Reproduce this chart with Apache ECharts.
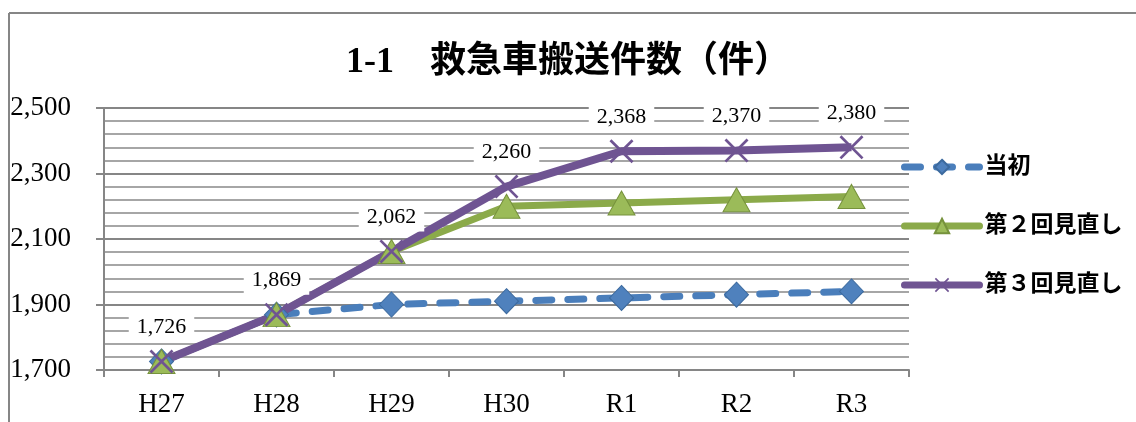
<!DOCTYPE html>
<html><head><meta charset="utf-8">
<script src="https://cdn.jsdelivr.net/npm/echarts@6/dist/echarts.min.js"></script>
<style>html,body{margin:0;padding:0;background:#fff}#c{width:1136px;height:422px}</style>
</head><body><div id="c"></div>
<script>
const categories = ['H27','H28','H29','H30','R1','R2','R3'];
const initial = [1726, 1869, 1900, 1910, 1920, 1930, 1940];
const review2 = [1726, 1869, 2062, 2200, 2210, 2220, 2230];
const review3 = [1726, 1869, 2062, 2260, 2368, 2370, 2380];
const seriesNames = ['当初', '第２回見直し', '第３回見直し'];
const titleText = '1-1　救急車搬送件数（件）';

const serif = '"Liberation Serif","Noto Sans CJK JP",serif';
const xPath = 'path://M0,0.8 L0.8,0 L10,9.2 L9.2,10 Z M9.2,0 L10,0.8 L0.8,10 L0,9.2 Z';

const chart = echarts.init(document.getElementById('c'), null, {renderer:'canvas'});
chart.setOption({
  animation: false,
  backgroundColor: '#fff',
  title: {
    text: titleText, left: 'center', top: 40,
    textStyle: {fontFamily: serif, fontWeight: 'bold', fontSize: 36, color: '#000'}
  },
  graphic: [
    {type:'line', shape:{x1:9, y1:13, x2:1136, y2:13}, style:{stroke:'#868686', lineWidth:2}},
    {type:'line', shape:{x1:9, y1:13, x2:9, y2:422}, style:{stroke:'#868686', lineWidth:2}}
  ],
  legend: {
    orient: 'vertical', left: 896, top: 150,
    itemWidth: 75, itemHeight: 18, itemGap: 35,
    textStyle: {fontFamily: serif, fontWeight: 'bold', fontSize: 23, color: '#000', lineHeight: 24},
    data: [
      {name: seriesNames[0], lineStyle: {width: 7, type: [16, 16], cap: 'round'}},
      {name: seriesNames[1], lineStyle: {width: 7, cap: 'round'}},
      {name: seriesNames[2], lineStyle: {width: 7, cap: 'round'}}
    ]
  },
  grid: {left: 104, right: 227, top: 108, bottom: 52},
  xAxis: {
    type: 'category', data: categories, boundaryGap: true,
    axisLine: {lineStyle: {color: '#868686', width: 2}},
    axisTick: {show: true, length: 7, lineStyle: {color: '#868686', width: 2}},
    axisLabel: {fontFamily: serif, fontSize: 27, color: '#000', margin: 21}
  },
  yAxis: {
    type: 'value', min: 1700, max: 2500, interval: 200,
    axisLine: {show: true, lineStyle: {color: '#868686', width: 2}},
    axisTick: {show: true, length: 8, lineStyle: {color: '#868686', width: 2}},
    axisLabel: {fontFamily: serif, fontSize: 27, color: '#000', margin: 33,
      formatter: v => v.toLocaleString('en-US')},
    splitLine: {show: true, lineStyle: {color: '#868686', width: 2}},
    minorTick: {show: false, splitNumber: 5},
    minorSplitLine: {show: true, lineStyle: {color: '#a6a6a6', width: 2}}
  },
  series: [
    {
      name: seriesNames[0], type: 'line', data: initial,
      symbol: 'diamond', symbolSize: [24, 25],
      lineStyle: {color: '#4A7EBB', width: 7, type: [16, 16], cap: 'round'},
      itemStyle: {color: '#4F81BD', borderColor: '#3C6A9E', borderWidth: 1}
    },
    {
      name: seriesNames[1], type: 'line', data: review2,
      symbol: 'triangle', symbolSize: [27, 24],
      lineStyle: {color: '#8BAA4A', width: 7},
      itemStyle: {color: '#9BBB59', borderColor: '#76923C', borderWidth: 1}
    },
    {
      name: seriesNames[2], type: 'line', data: review3,
      symbol: xPath, symbolSize: 24,
      lineStyle: {color: '#6F5492', width: 8},
      itemStyle: {color: '#6F5492'},
      label: {
        show: true, position: 'top', distance: 8,
        fontFamily: serif, fontSize: 22, color: '#000',
        backgroundColor: '#fff', padding: [3, 8],
        formatter: p => p.value.toLocaleString('en-US')
      }
    }
  ]
});
</script></body></html>
